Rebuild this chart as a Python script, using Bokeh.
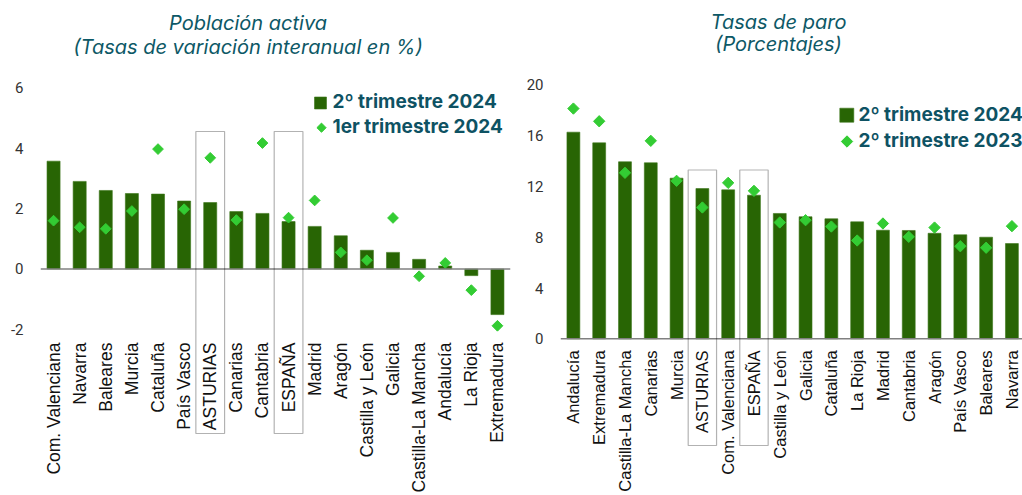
from bokeh.plotting import figure
from bokeh.layouts import row
from bokeh.models import (ColumnDataSource, Range1d, FixedTicker, Span,
                          BoxAnnotation, Label)
from bokeh.core.properties import value
from bokeh.embed import file_html
from bokeh.resources import INLINE
import math

# ---------------- data ----------------
cats_act = ["Com. Valenciana", "Navarra", "Baleares", "Murcia", "Cataluña", "País Vasco",
            "ASTURIAS", "Canarias", "Cantabria", "ESPAÑA", "Madrid", "Aragón",
            "Castilla y León", "Galicia", "Castilla-La Mancha", "Andalucía", "La Rioja",
            "Extremadura"]
act_2t24 = [3.57, 2.90, 2.60, 2.50, 2.48, 2.25, 2.20, 1.90, 1.84, 1.57, 1.41, 1.10,
            0.62, 0.55, 0.32, 0.10, -0.22, -1.51]
act_1t24 = [1.60, 1.38, 1.33, 1.92, 3.97, 1.98, 3.68, 1.62, 4.17, 1.70, 2.27, 0.55,
            0.29, 1.69, -0.24, 0.20, -0.70, -1.88]
act_ticks = [-2, 0, 2, 4, 6]
act_series = ["2º trimestre 2024", "1er trimestre 2024"]

cats_paro = ["Andalucía", "Extremadura", "Castilla-La Mancha", "Canarias", "Murcia",
             "ASTURIAS", "Com. Valenciana", "ESPAÑA", "Castilla y León", "Galicia",
             "Cataluña", "La Rioja", "Madrid", "Cantabria", "Aragón", "País Vasco",
             "Baleares", "Navarra"]
paro_2t24 = [16.27, 15.43, 13.94, 13.86, 12.65, 11.83, 11.73, 11.31, 9.87, 9.61, 9.45,
             9.21, 8.55, 8.53, 8.31, 8.19, 8.00, 7.50]
paro_2t23 = [18.13, 17.13, 13.07, 15.59, 12.44, 10.34, 12.28, 11.65, 9.16, 9.34, 8.84,
             7.74, 9.08, 8.03, 8.76, 7.29, 7.17, 8.87]
paro_ticks = [0, 4, 8, 12, 16, 20]
paro_series = ["2º trimestre 2024", "2º trimestre 2023"]

highlight = ["ASTURIAS", "ESPAÑA"]

BAR = "#286504"
DIAM = "#33cc33"
TITLE = "#0d5866"
LEG = "#0e5263"
H = 495


def make_panel(cats, cur, prev, ticks, series, yr, xr, width, border_left, border_right,
               label_anchor, label_standoff, label_size, titles, title_px, legend_px,
               square_size, diamond_size, legend_diamond, box_top_px, box_bottom_px,
               box_half, tick_standoff):
    frame_w = width - border_left - border_right

    # pixel (relative to figure's top-left) -> data coordinates, for annotations only
    def dx(px):
        return xr[0] + (px - border_left) * (xr[1] - xr[0]) / frame_w

    def dy(py):
        return yr[1] - py * (yr[1] - yr[0]) / H

    xs = list(range(len(cats)))
    src = ColumnDataSource(dict(x=xs, name=cats, cur=cur, prev=prev))
    p = figure(x_range=Range1d(*xr), y_range=Range1d(*yr),
               width=width, height=H, output_backend="svg", toolbar_location=None,
               min_border_left=border_left, min_border_right=border_right,
               min_border_top=0, min_border_bottom=0)
    p.outline_line_color = None
    p.grid.visible = False
    p.xaxis.visible = False

    p.vbar(x="x", top="cur", bottom=0, width=0.5, source=src,
           fill_color=BAR, line_color="#3a7619", line_width=0.6)
    p.add_layout(Span(location=0, dimension="width", line_color="#808080", line_width=1.5))
    p.scatter(x="x", y="prev", source=src, marker="square", size=diamond_size,
              angle=math.pi / 4, fill_color=DIAM, line_color=DIAM)

    # category labels (vertical, reading upwards)
    p.text(x="x", y=label_anchor, text="name", source=src, angle=math.pi / 2,
           y_offset=label_standoff, text_align="right", text_baseline="middle",
           text_font=value("Liberation Sans"), text_font_size=label_size,
           text_color="#111111")

    # highlighted boxes
    for name in highlight:
        i = cats.index(name)
        p.add_layout(BoxAnnotation(left=i - box_half, right=i + box_half,
                                   top=dy(box_top_px), bottom=dy(box_bottom_px),
                                   fill_alpha=0, line_color="black", line_width=1.2))

    # y axis
    p.yaxis.ticker = FixedTicker(ticks=ticks)
    p.yaxis.major_label_overrides = {t: str(t) for t in ticks}
    p.yaxis.axis_line_color = None
    p.yaxis.major_tick_line_color = None
    p.yaxis.minor_tick_line_color = None
    p.yaxis.major_tick_out = 0
    p.yaxis.major_tick_in = 0
    p.yaxis.major_label_standoff = tick_standoff
    p.yaxis.major_label_text_font = "Roboto"
    p.yaxis.major_label_text_font_size = "15px"
    p.yaxis.major_label_text_color = "#333333"

    # titles
    tx, tys = title_px
    for t, ty in zip(titles, tys):
        p.add_layout(Label(x=dx(tx), y=dy(ty), text=t, text_align="center",
                           text_baseline="middle", text_font="Inter",
                           text_font_style="italic", text_font_size="20px",
                           text_color=TITLE))

    # legend (drawn by hand so that the marker is a real diamond)
    (mx_sq, my_sq), (mx_di, my_di), tx_leg, (ty1, ty2) = legend_px
    p.scatter(x=[dx(mx_sq)], y=[dy(my_sq)], marker="square", size=square_size,
              fill_color=BAR, line_color="#3a7619", line_width=0.6)
    p.scatter(x=[dx(mx_di)], y=[dy(my_di)], marker="square", size=legend_diamond,
              angle=math.pi / 4, fill_color=DIAM, line_color=DIAM)
    for t, ty in zip(series, (ty1, ty2)):
        p.add_layout(Label(x=dx(tx_leg), y=dy(ty), text=t, text_align="left",
                           text_baseline="middle", text_font="Inter",
                           text_font_style="bold", text_font_size="19px",
                           text_color=LEG))
    return p


left = make_panel(cats_act, act_2t24, act_1t24, act_ticks, act_series,
                  yr=(-7.50, 8.89), xr=(-0.5, 17.5), width=515, border_left=40,
                  border_right=5, label_anchor=-2.14, label_standoff=9,
                  label_size="17.5px",
                  titles=["Población activa", "(Tasas de variación interanual en %)"],
                  title_px=(247.5, (22, 46)),
                  legend_px=((320, 102.5), (321, 127.2), 332, (101, 126)),
                  square_size=12, diamond_size=7.6, legend_diamond=6.5,
                  box_top_px=131, box_bottom_px=433, box_half=0.55, tick_standoff=17)

right = make_panel(cats_paro, paro_2t24, paro_2t23, paro_ticks, paro_series,
                   yr=(-12.34, 26.64), xr=(-0.5, 17.41), width=507, border_left=45,
                   border_right=0, label_anchor=-0.13, label_standoff=10,
                   label_size="16.5px",
                   titles=["Tasas de paro", "(Porcentajes)"],
                   title_px=(778 - 515, (21, 43.5)),
                   legend_px=((846.3 - 515, 114.7), (846.5 - 515, 141), 858 - 515,
                              (113.5, 140)),
                   square_size=14, diamond_size=8, legend_diamond=8,
                   box_top_px=169.5, box_bottom_px=445, box_half=0.55, tick_standoff=17)

layout = row(left, right)
open("out.html", "w").write(file_html(layout, INLINE))
